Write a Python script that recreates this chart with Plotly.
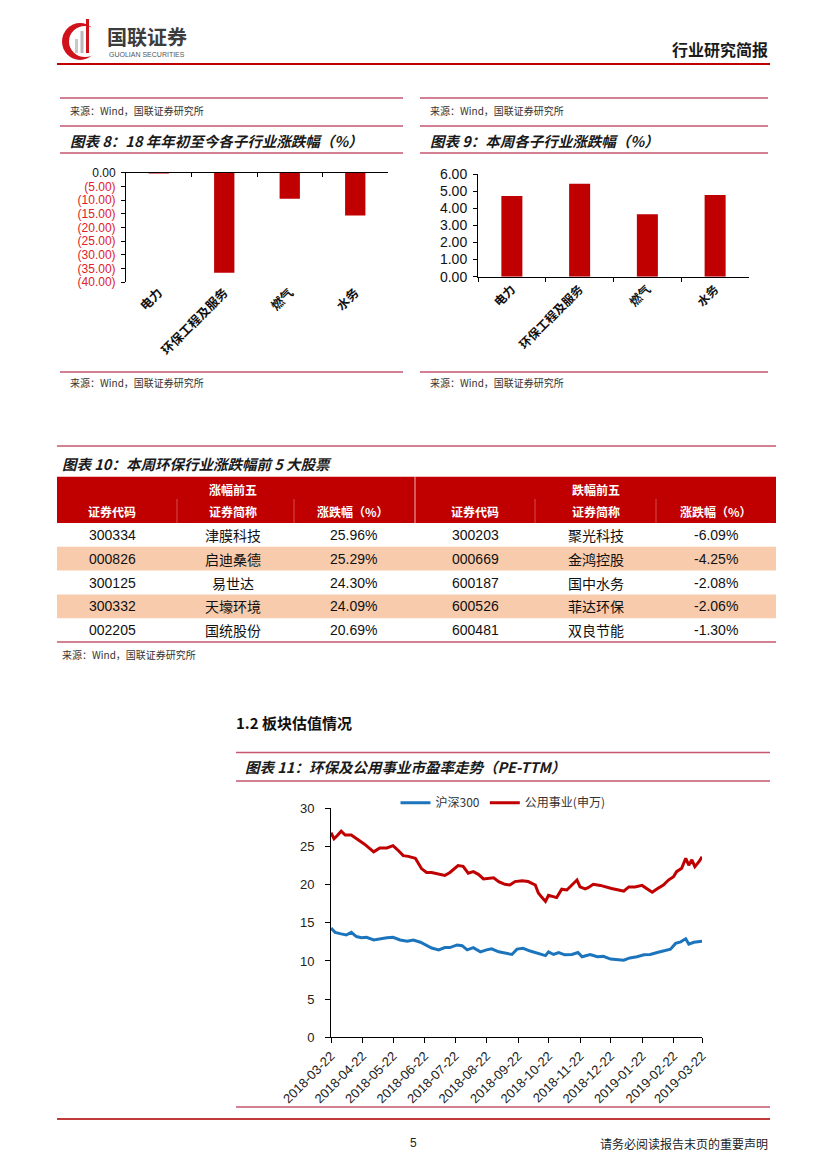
import plotly.graph_objects as go

W, H = 827, 1169

# ---------------- data ----------------
sub_industries = ["电力", "环保工程及服务", "燃气", "水务"]
ytd_change = [-0.3, -36.6, -9.5, -15.7]
week_change = [4.71, 5.43, 3.65, 4.77]

ytd_tickvals = [0, -5, -10, -15, -20, -25, -30, -35, -40]
ytd_ticklabels = ["0.00", "(5.00)", "(10.00)", "(15.00)", "(20.00)",
                  "(25.00)", "(30.00)", "(35.00)", "(40.00)"]
week_tickvals = [0, 1, 2, 3, 4, 5, 6]
week_ticklabels = ["0.00", "1.00", "2.00", "3.00", "4.00", "5.00", "6.00"]

table_group = ["涨幅前五", "跌幅前五"]
table_cols = ["证券代码", "证券简称", "涨跌幅（%）"]
gain_codes = ["300334", "000826", "300125", "300332", "002205"]
gain_names = ["津膜科技", "启迪桑德", "易世达", "天壕环境", "国统股份"]
gain_pct = ["25.96%", "25.29%", "24.30%", "24.09%", "20.69%"]
loss_codes = ["300203", "000669", "600187", "600526", "600481"]
loss_names = ["聚光科技", "金鸿控股", "国中水务", "菲达环保", "双良节能"]
loss_pct = ["-6.09%", "-4.25%", "-2.08%", "-2.06%", "-1.30%"]

hs300_dates = ["2018-03-22", "2018-03-26", "2018-04-01", "2018-04-06", "2018-04-11", "2018-04-16",
               "2018-04-21", "2018-04-26", "2018-05-03", "2018-05-09", "2018-05-16", "2018-05-22",
               "2018-05-29", "2018-06-05", "2018-06-11", "2018-06-18", "2018-06-24", "2018-06-29",
               "2018-07-06", "2018-07-12", "2018-07-17", "2018-07-24", "2018-07-29", "2018-08-03",
               "2018-08-09", "2018-08-16", "2018-08-22", "2018-08-27", "2018-09-03", "2018-09-09",
               "2018-09-16", "2018-09-21", "2018-09-27", "2018-10-04", "2018-10-09", "2018-10-14",
               "2018-10-19", "2018-10-22", "2018-10-27", "2018-11-01", "2018-11-07", "2018-11-14",
               "2018-11-20", "2018-11-24", "2018-12-02", "2018-12-09", "2018-12-15", "2018-12-22",
               "2018-12-28", "2019-01-04", "2019-01-10", "2019-01-17", "2019-01-24", "2019-01-30",
               "2019-02-06", "2019-02-12", "2019-02-19", "2019-02-24", "2019-03-01", "2019-03-06",
               "2019-03-09", "2019-03-14", "2019-03-19", "2019-03-22"]
hs300_pe = [14.3, 13.75, 13.55, 13.4, 13.75, 13.2, 13.05, 13.1, 12.75, 12.9, 13.05, 13.1,
            12.75, 12.6, 12.75, 12.45, 12.0, 11.7, 11.45, 11.75, 11.75, 12.1, 12.0, 11.45,
            11.75, 11.2, 11.45, 11.6, 11.2, 11.0, 10.85, 11.55, 11.65, 11.3, 11.1, 10.8,
            10.7, 11.2, 10.85, 11.1, 10.8, 10.85, 11.1, 10.55, 10.85, 10.55, 10.6, 10.25,
            10.15, 10.1, 10.4, 10.55, 10.8, 10.85, 11.1, 11.3, 11.55, 12.3, 12.5, 12.9,
            12.2, 12.45, 12.6, 12.6]

util_dates = ["2018-03-22", "2018-03-25", "2018-03-28", "2018-04-01", "2018-04-05", "2018-04-11",
              "2018-04-18", "2018-04-24", "2018-05-03", "2018-05-09", "2018-05-16", "2018-05-22",
              "2018-05-27", "2018-06-01", "2018-06-06", "2018-06-13", "2018-06-19", "2018-06-24",
              "2018-06-29", "2018-07-06", "2018-07-12", "2018-07-17", "2018-07-25", "2018-07-30",
              "2018-08-04", "2018-08-09", "2018-08-14", "2018-08-19", "2018-08-24", "2018-08-29",
              "2018-09-03", "2018-09-09", "2018-09-14", "2018-09-19", "2018-09-26", "2018-10-02",
              "2018-10-09", "2018-10-12", "2018-10-15", "2018-10-19", "2018-10-22", "2018-10-27",
              "2018-10-30", "2018-11-04", "2018-11-09", "2018-11-14", "2018-11-19", "2018-11-22",
              "2018-11-27", "2018-11-30", "2018-12-05", "2018-12-12", "2018-12-17", "2018-12-23",
              "2018-12-30", "2019-01-04", "2019-01-09", "2019-01-15", "2019-01-22", "2019-01-27",
              "2019-02-01", "2019-02-06", "2019-02-12", "2019-02-17", "2019-02-22", "2019-02-25",
              "2019-03-02", "2019-03-06", "2019-03-09", "2019-03-12", "2019-03-15", "2019-03-19",
              "2019-03-22"]
util_pe = [26.8, 26.0, 26.4, 27.0, 26.5, 26.5, 25.85, 25.3, 24.3, 24.8, 24.8, 25.1,
           24.5, 23.8, 23.7, 23.45, 22.1, 21.6, 21.6, 21.35, 21.2, 21.6, 22.5, 22.4,
           21.5, 21.7, 21.35, 20.75, 20.8, 20.9, 20.4, 20.05, 19.95, 20.4, 20.5, 20.4,
           19.95, 18.9, 18.4, 17.8, 18.6, 18.4, 18.3, 19.4, 19.3, 19.95, 20.6, 19.7,
           19.45, 19.6, 20.05, 19.9, 19.7, 19.5, 19.3, 19.15, 19.7, 19.7, 19.9, 19.5,
           19.0, 19.45, 19.95, 20.6, 21.05, 21.7, 22.15, 23.45, 22.55, 23.25, 22.35, 23.0,
           23.65]

month_ticks = ["2018-03-22", "2018-04-22", "2018-05-22", "2018-06-22", "2018-07-22",
               "2018-08-22", "2018-09-22", "2018-10-22", "2018-11-22", "2018-12-22",
               "2019-01-22", "2019-02-22", "2019-03-22"]
pe_tickvals = [0, 5, 10, 15, 20, 25, 30]

# ---------------- styling ----------------
CJK = "Noto Sans CJK SC"
LAT = "Liberation Sans, Arial, sans-serif"
NAR = "Liberation Sans Narrow, Liberation Sans, Arial, sans-serif"
RED = "#C00000"
PINK = "#C4566E"
BLUE = "#1C75BC"
BAND = "#F8CBAD"


def X(p):
    return p / W


def Y(p):
    return 1 - p / H


shapes = []
annotations = []


def hline(y, x0, x1, color=PINK, width=1.5):
    shapes.append(dict(type="line", xref="paper", yref="paper",
                       x0=X(x0), x1=X(x1), y0=Y(y), y1=Y(y),
                       line=dict(color=color, width=width)))


def vline(x, y0, y1, color, width=1):
    shapes.append(dict(type="line", xref="paper", yref="paper",
                       x0=X(x), x1=X(x), y0=Y(y0), y1=Y(y1),
                       line=dict(color=color, width=width)))


def rect(x0, y0, x1, y1, color, kind="rect"):
    shapes.append(dict(type=kind, xref="paper", yref="paper",
                       x0=X(x0), x1=X(x1), y0=Y(y1), y1=Y(y0),
                       fillcolor=color, line=dict(width=0), layer="below"))


def text(s, x, y, size=12, color="#1a1a1a", anchor="left", family=CJK,
         bold=False, italic=False):
    annotations.append(dict(
        text=s, x=X(x), y=Y(y), xref="paper", yref="paper",
        xanchor=anchor, yanchor="middle", showarrow=False,
        font=dict(size=size, color=color, family=family,
                  weight="bold" if bold else "normal",
                  style="italic" if italic else "normal")))


# ---------------- page header ----------------
rect(62, 23, 98, 60, "#D0121B", "circle")
rect(69, 26, 101, 57, "white", "circle")
rect(86, 19, 89, 53, "#D0121B")
rect(80.5, 31, 83.5, 53, "#B8B8B8")
rect(75, 39, 78, 53, "#C8C8C8")
text("国联证券", 105, 37, 20, "#3C3C3C", bold=True)
text("GUOLIAN SECURITIES", 107, 55, 7, "#555555", family=LAT)
text("行业研究简报", 770, 49, 16, "#1a1a1a", anchor="right", bold=True)
hline(64, 57, 770, RED, 2)

# ---------------- charts 8 / 9 frames ----------------
src = "来源：Wind，国联证券研究所"
for x0, x1, title in [(60, 403, "图表 8：18 年年初至今各子行业涨跌幅（%）"),
                      (420, 768, "图表 9：本周各子行业涨跌幅（%）")]:
    hline(98, x0, x1)
    text(src, x0 + 8, 110, 10, "#333333")
    hline(126, x0, x1)
    text(title, x0 + 8, 140, 14.5, "#1a1a1a", bold=True, italic=True)
    hline(153, x0, x1)
    hline(372, x0, x1)
    text(src, x0 + 8, 382, 10, "#333333")

# ---------------- table 10 ----------------
hline(446, 57, 776)
text("图表 10：本周环保行业涨跌幅前 5 大股票", 60, 463, 14.5, "#1a1a1a", bold=True, italic=True)
head_top, head_bot = 476.7, 523
row_h = 23.8
rect(57, head_top, 776, head_bot, RED)
vline(415, head_top, head_bot, "rgba(255,255,255,0.7)", 1)
for xs in [177, 294, 535, 656]:
    vline(xs, 499, head_bot, "rgba(255,255,255,0.3)", 1)
col_centers = [[112, 233, 353], [475, 596, 716]]
for half, grp in enumerate(table_group):
    text(grp, col_centers[half][1], 489, 12, "white", anchor="center", bold=True)
    for c, name in enumerate(table_cols):
        text(name, col_centers[half][c], 511.5, 12, "white", anchor="center", bold=True)

rows = [(gain_codes, gain_names, gain_pct), (loss_codes, loss_names, loss_pct)]
for i in range(len(gain_codes)):
    y0 = head_bot + i * row_h
    if i % 2 == 1:
        rect(57, y0, 776, y0 + row_h, BAND)
    yc = y0 + row_h / 2
    for half, (codes, names, pcts) in enumerate(rows):
        text(codes[i], col_centers[half][0], yc, 14, "#111111", anchor="center", family=LAT)
        text(names[i], col_centers[half][1], yc, 14, "#111111", anchor="center", family=CJK)
        text(pcts[i], col_centers[half][2], yc, 14, "#111111", anchor="center", family=LAT)
hline(head_bot + 5 * row_h, 57, 776)
text(src, 60, 654, 10, "#333333")

# ---------------- chart 11 frame ----------------
text("<b>1.2</b> 板块估值情况", 234, 722, 15, "#111111", bold=True)
hline(752.5, 236, 770)
text("图表 11：环保及公用事业市盈率走势（PE-TTM）", 243, 766.5, 14.5, "#1a1a1a", bold=True, italic=True)
hline(781, 236, 770)
hline(1107, 236, 770)

# ---------------- footer ----------------
hline(1119, 57, 770, "#C23B3B", 2)
text("5", 413, 1143, 12, "#222222", anchor="center", family=LAT)
text("请务必阅读报告末页的重要声明", 770, 1143, 12, "#222222", anchor="right")

# ---------------- traces ----------------
fig = go.Figure()
fig.add_trace(go.Bar(x=sub_industries, y=ytd_change, marker_color=RED,
                     xaxis="x", yaxis="y", showlegend=False, width=0.31))
fig.add_trace(go.Bar(x=sub_industries, y=ytd_change, marker_color=RED, opacity=0,
                     xaxis="x2", yaxis="y", showlegend=False, width=0.31, hoverinfo="skip"))
fig.add_trace(go.Bar(x=sub_industries, y=week_change, marker_color=RED,
                     xaxis="x3", yaxis="y2", showlegend=False, width=0.31))
fig.add_trace(go.Scatter(x=hs300_dates, y=hs300_pe, mode="lines", name="沪深300",
                         line=dict(color=BLUE, width=3), xaxis="x4", yaxis="y3"))
fig.add_trace(go.Scatter(x=util_dates, y=util_pe, mode="lines", name="公用事业(申万)",
                         line=dict(color=RED, width=3), xaxis="x4", yaxis="y3"))

ytd_ticktext = [lab if v == 0 else '<span style="color:#E0202A">' + lab + '</span>'
                for v, lab in zip(ytd_tickvals, ytd_ticklabels)]

axis_common = dict(showgrid=False, zeroline=False, linewidth=1,
                   tickcolor="black", fixedrange=True, automargin=False)

fig.update_layout(
    template="none",
    width=W, height=H, autosize=False,
    margin=dict(l=0, r=0, t=0, b=0, pad=0, autoexpand=False),
    paper_bgcolor="white", plot_bgcolor="rgba(0,0,0,0)",
    shapes=shapes, annotations=annotations,
    barmode="overlay",
    showlegend=True,
    legend=dict(orientation="h", x=X(503), xanchor="center", y=Y(802.7), yanchor="middle",
                font=dict(family=CJK, size=12, color="#333333"), bgcolor="rgba(0,0,0,0)",
                itemwidth=30, tracegroupgap=0),
    # chart 8
    xaxis=dict(domain=[X(126), X(388)], anchor="y", type="category",
               categoryarray=sub_industries, range=[-0.5, 3.5],
               showline=False, ticks="", tickangle=-45,
               tickfont=dict(family=CJK, size=12.5, color="#111111", weight="bold"),
               **axis_common),
    xaxis2=dict(overlaying="x", side="top", anchor="y", type="category",
                categoryarray=sub_industries, range=[-0.5, 3.5],
                showline=True, linecolor="black", ticks="inside", tickson="boundaries",
                ticklen=4, showticklabels=False, **axis_common),
    yaxis=dict(domain=[Y(282), Y(172.7)], anchor="x", range=[-40, 0],
               tickvals=ytd_tickvals, ticktext=ytd_ticktext,
               showline=True, linecolor="black", ticks="outside", ticklen=4,
               ticklabelstandoff=3,
               tickfont=dict(family=LAT, size=12, color="#111111"), **axis_common),
    # chart 9
    xaxis3=dict(domain=[X(478), X(749)], anchor="y2", type="category",
                categoryarray=sub_industries, range=[-0.5, 3.5],
                showline=True, linecolor="black", ticks="outside", tickson="boundaries",
                ticklen=4, tickangle=-45,
                tickfont=dict(family=CJK, size=12, color="#111111", weight="bold"),
                **axis_common),
    yaxis2=dict(domain=[Y(276.7), Y(174)], anchor="x3", range=[0, 6],
                tickvals=week_tickvals, ticktext=week_ticklabels,
                showline=True, linecolor="black", ticks="outside", ticklen=4,
                ticklabelstandoff=3,
                tickfont=dict(family=LAT, size=14, color="#111111"), **axis_common),
    # chart 11
    xaxis4=dict(domain=[X(331), X(702)], anchor="y3", type="date",
                range=[month_ticks[0], month_ticks[-1]],
                tickvals=month_ticks, ticktext=month_ticks, tickangle=-45,
                showline=True, linecolor="black", ticks="outside", ticklen=5,
                tickfont=dict(family=LAT, size=13, color="#222222"), **axis_common),
    yaxis3=dict(domain=[Y(1037.3), Y(808.3)], anchor="x4", range=[0, 30],
                tickvals=pe_tickvals, showline=True, linecolor="black",
                ticks="outside", ticklen=5, ticklabelstandoff=8,
                tickfont=dict(family=NAR, size=13, color="#222222"), **axis_common),
)

fig.write_html(
    "out.html",
    config={"displayModeBar": False, "staticPlot": True},
    post_script="document.body.style.margin='0';document.body.style.overflow='hidden';",
)
